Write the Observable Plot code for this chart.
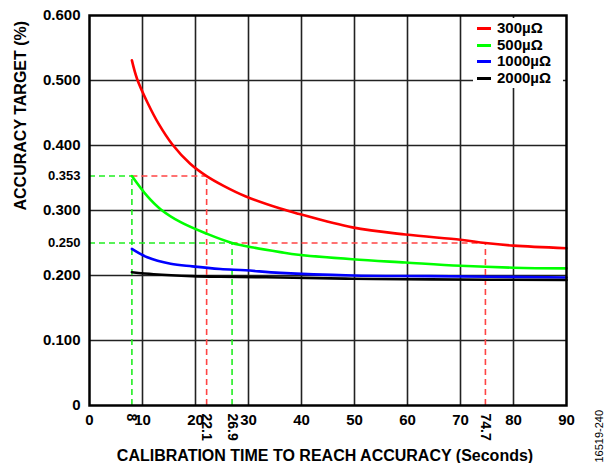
<!DOCTYPE html>
<html>
<head>
<meta charset="utf-8">
<script src="https://cdn.jsdelivr.net/npm/d3@7"></script>
<script src="https://cdn.jsdelivr.net/npm/@observablehq/plot@0.6"></script>
<style>
  html, body { margin: 0; padding: 0; background: #fff; }
  #wrap { position: relative; width: 614px; height: 463px; font-family: "Liberation Sans", Arial, sans-serif; }
  #legend { position: absolute; left: 473px; top: 18px; width: 90px; height: 70px; background: #fff; font-weight: bold; font-size: 15px; }
  #legend .row { position: absolute; left: 0; height: 16px; line-height: 16px; }
  #legend .sw { position: absolute; left: 4px; top: 7px; width: 14px; height: 3px; }
  #legend .lb { position: absolute; left: 24px; top: 0; white-space: nowrap; }
</style>
</head>
<body>
<div id="wrap"></div>
<script>
// ---- data ----
const xTicks = [0, 10, 20, 30, 40, 50, 60, 70, 80, 90];
const yTicks = [0, 0.1, 0.2, 0.3, 0.4, 0.5, 0.6];
const seriesNames = ["300µΩ", "500µΩ", "1000µΩ", "2000µΩ"];
const seriesColors = ["#ff0000", "#00ff00", "#0000ff", "#000000"];

const time300 = [8, 9, 11, 13, 15.6, 19, 22.1, 25.3, 29.4, 36, 39.4, 49.6, 59.6, 70, 74.7, 80, 90];
const acc300  = [0.531, 0.502, 0.465, 0.434, 0.402, 0.372, 0.353, 0.338, 0.322, 0.303, 0.295, 0.274, 0.263, 0.255, 0.250, 0.246, 0.242];
const time500 = [8, 10.9, 13.4, 17.2, 22.2, 26.9, 30.9, 36, 39.4, 49.6, 59.6, 70, 80, 90];
const acc500  = [0.353, 0.322, 0.302, 0.282, 0.264, 0.250, 0.243, 0.236, 0.232, 0.225, 0.220, 0.215, 0.212, 0.211];
const time1000 = [8, 10.9, 15.3, 19.4, 24.7, 29.4, 36, 49.6, 64.3, 90];
const acc1000  = [0.241, 0.228, 0.218, 0.214, 0.210, 0.208, 0.204, 0.200, 0.199, 0.197];
const time2000 = [8, 12.1, 19.4, 24.7, 36, 49.6, 64.3, 90];
const acc2000  = [0.205, 0.202, 0.199, 0.198, 0.197, 0.195, 0.194, 0.193];

// reference (dashed) markers
const refX      = [8, 22.1, 26.9, 74.7];
const refY      = [0.353, 0.353, 0.25, 0.25];
const refStartX = [0, 8, 0, 26.9];
const refColor  = ["#22ee22", "#ff4444", "#22ee22", "#ff4444"];
const refYLabels = [0.353, 0.25];
const refXLabels = ["8", "22.1", "26.9", "74.7"];

const xTitle = "CALIBRATION TIME TO REACH ACCURACY (Seconds)";
const yTitle = "ACCURACY TARGET (%)";
const figId = "16519-240";

// ---- build tables ----
const times = [time300, time500, time1000, time2000];
const accs = [acc300, acc500, acc1000, acc2000];
const rows = [];
seriesNames.forEach((name, i) => {
  times[i].forEach((t, j) => rows.push({series: name, t, a: accs[i][j]}));
});
const refs = refX.map((x, i) => ({x, y: refY[i], x0: refStartX[i], c: refColor[i], label: refXLabels[i]}));

const chart = Plot.plot({
  width: 614,
  height: 463,
  marginLeft: 89,
  marginRight: 48,
  marginTop: 15,
  marginBottom: 58,
  style: {fontFamily: "'Liberation Sans', Arial, sans-serif", fontWeight: "bold", fontSize: "15px", color: "#000", background: "#fff"},
  x: {domain: [0, 90]},
  y: {domain: [0, 0.6]},
  color: {domain: seriesNames, range: seriesColors},
  marks: [
    Plot.gridX(xTicks.slice(1, -1), {stroke: "#222", strokeOpacity: 1, strokeWidth: 1.6}),
    Plot.gridY(yTicks.slice(1, -1), {stroke: "#222", strokeOpacity: 1, strokeWidth: 1.6}),
    Plot.ruleY(refs, {y: "y", x1: "x0", x2: "x", stroke: "c", strokeWidth: 1.6, strokeDasharray: "6,4"}),
    Plot.ruleX(refs, {x: "x", y1: 0, y2: "y", stroke: "c", strokeWidth: 1.6, strokeDasharray: "6,4"}),
    Plot.line(rows, {x: "t", y: "a", z: "series", stroke: "series", strokeWidth: 2.6, curve: "catmull-rom"}),
    Plot.frame({stroke: "#000", strokeWidth: 2.5}),
    Plot.axisX(xTicks, {tickSize: 0, tickPadding: 9, fontSize: 15, fontWeight: "bold", label: null, tickFormat: d => String(d)}),
    Plot.axisY(yTicks, {tickSize: 0, tickPadding: 9, fontSize: 15, fontWeight: "bold", label: null, tickFormat: d => d === 0 ? "0" : d.toFixed(3)}),
    Plot.axisY(refYLabels, {tickSize: 0, tickPadding: 9, fontSize: 13, fontWeight: "bold", label: null, tickFormat: d => d.toFixed(3)}),
    Plot.text(refs, {x: "x", text: "label", frameAnchor: "bottom", dy: 8, rotate: 90, textAnchor: "start", lineAnchor: "middle", fontSize: 14, fontWeight: "bold"}),
    Plot.text([xTitle], {text: d => d, frameAnchor: "bottom", dx: -3, dy: 50, lineAnchor: "middle", fontSize: 16, fontWeight: "bold"}),
    Plot.text([yTitle], {text: d => d, frameAnchor: "left", dx: -69, rotate: -90, lineAnchor: "middle", fontSize: 16, fontWeight: "bold"}),
    Plot.text([figId], {text: d => d, frameAnchor: "bottom-right", dx: 33, dy: 57, rotate: -90, textAnchor: "start", lineAnchor: "middle", fontSize: 11, fontWeight: "normal"})
  ]
});

const wrap = document.getElementById("wrap");
wrap.appendChild(chart);

// legend overlay
const legend = document.createElement("div");
legend.id = "legend";
seriesNames.forEach((name, i) => {
  const row = document.createElement("div");
  row.className = "row";
  row.style.top = (2 + i * 16.5) + "px";
  const sw = document.createElement("div");
  sw.className = "sw";
  sw.style.background = seriesColors[i];
  const lb = document.createElement("div");
  lb.className = "lb";
  lb.textContent = name;
  row.appendChild(sw);
  row.appendChild(lb);
  legend.appendChild(row);
});
wrap.appendChild(legend);
</script>
</body>
</html>
